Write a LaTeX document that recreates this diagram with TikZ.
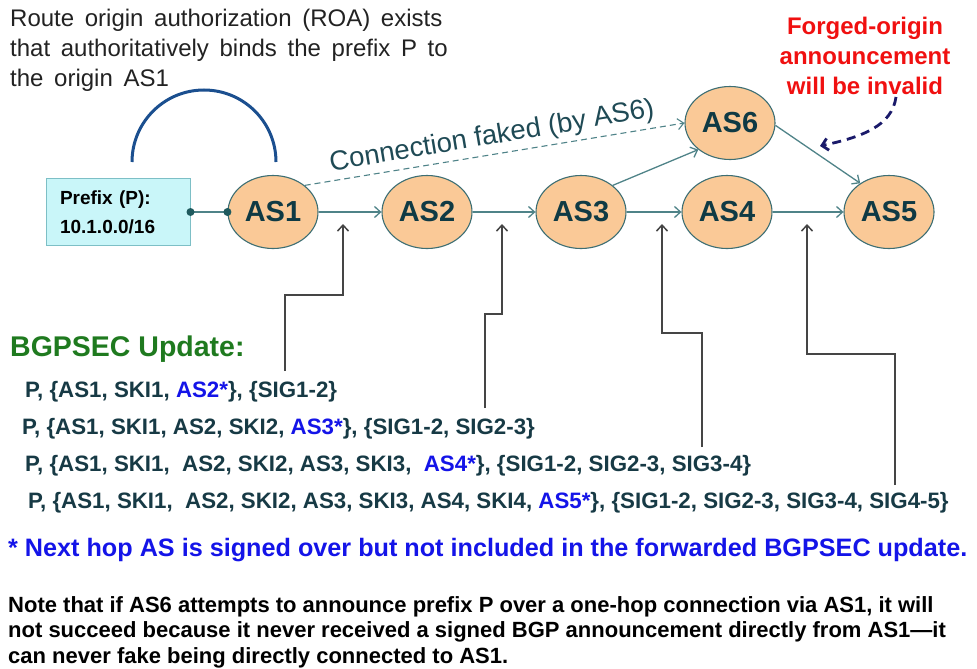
\documentclass[tikz,border=0pt]{standalone}
\usepackage{fontspec}
\setmainfont{Liberation Sans}
\newfontfamily\roaflow[WordSpace=1.6]{Liberation Sans}
\usetikzlibrary{shapes.geometric,arrows.meta}
\definecolor{asfill}{HTML}{FAC997}
\definecolor{asdraw}{HTML}{3C6E73}
\definecolor{astext}{HTML}{0F3A44}
\definecolor{edgecol}{HTML}{4F8388}
\definecolor{boxfill}{HTML}{C9F6F9}
\definecolor{boxdraw}{HTML}{7DBFC6}
\definecolor{arccol}{HTML}{1B4F8F}
\definecolor{fakecol}{HTML}{1F4A55}
\definecolor{forgedred}{HTML}{F01010}
\definecolor{navycol}{HTML}{1A1A6A}
\definecolor{greencol}{HTML}{1F7A1F}
\definecolor{updcol}{HTML}{173A45}
\definecolor{bluecol}{HTML}{1414E8}
\definecolor{callcol}{HTML}{454545}
\definecolor{roatext}{HTML}{222222}
\definecolor{dotcol}{HTML}{1F5A5E}
\begin{document}
\begin{tikzpicture}[x=1pt,y=-1pt,
  asnode/.style={ellipse, draw=asdraw, line width=1.1pt, fill=asfill,
    minimum width=90pt, minimum height=73pt, inner sep=0pt, text=astext,
    font=\fontsize{29}{29}\selectfont\bfseries},
  edge/.style={draw=edgecol, line width=1.3pt, -{Straight Barb[length=6pt,width=11pt]}},
  fakeedge/.style={edge, dash pattern=on 6pt off 4pt, line width=1.1pt},
  callout/.style={draw=callcol, line width=1.5pt, -{Straight Barb[length=6pt,width=11pt]}},
  updline/.style={anchor=west, inner sep=0pt, text=updcol, font=\fontsize{22.3}{22.3}\selectfont\bfseries},
  prefixbox/.style={rectangle, draw=boxdraw, line width=1pt, fill=boxfill,
    minimum width=144pt, minimum height=67pt, text width=116pt, align=left,
    inner sep=0pt, font=\fontsize{19}{29}\selectfont\bfseries, text=black}
]
\useasboundingbox (0,0) rectangle (977,669);

% ROA text
\node[anchor=north west, inner sep=0pt, align=left, text=roatext,
  font=\fontsize{24}{30}\roaflow] (roa) at (10,9)
  {Route origin authorization (ROA) exists\\that authoritatively binds the prefix P to\\the origin AS1};

% arc
\draw[arccol, line width=3pt] (132,162) arc[start angle=180, end angle=360, radius=72];

% nodes
\node[prefixbox] (prefix) at (118,212) {Prefix (P):\\10.1.0.0/16};
\node[asnode] (as1) at (273,212) {AS1};
\node[asnode] (as2) at (427,212) {AS2};
\node[asnode] (as3) at (581,212) {AS3};
\node[asnode] (as4) at (727,212) {AS4};
\node[asnode] (as5) at (889,212) {AS5};
\node[asnode] (as6) at (730,123) {AS6};

% prefix connector with dots
\draw[edgecol, line width=1.3pt] (prefix.east) -- (as1.west);
\fill[dotcol] (prefix.east) circle (4pt);
\fill[dotcol] (as1.west) circle (4pt);

% edges
\draw[edge] (as1) -- (as2);
\draw[edge] (as2) -- (as3);
\draw[edge] (as3) -- (as4);
\draw[edge] (as4) -- (as5);
\draw[edge] (as3.40) -- (as6.220);
\draw[edge] (as6.-3) -- (as5.135);
\draw[fakeedge] (as1.40) -- (as6.west);
\node[rotate=9.5, inner sep=0pt, text=fakecol, font=\fontsize{27.5}{27.5}\selectfont] (faketext) at (492,137) {Connection faked (by AS6)};

% forged origin
\node[align=center, inner sep=0pt, text=forgedred, font=\fontsize{24}{30}\selectfont\bfseries] (forged) at (865,56)
  {Forged-origin\\announcement\\will be invalid};
\coordinate (fgstart) at (896,97);
\coordinate (fgtip) at (820,146);
\draw[navycol, line width=2.8pt, dash pattern=on 9pt off 6pt, -{Straight Barb[length=6pt,width=12pt]}]
  (fgstart) .. controls (892,126) and (862,137) .. (fgtip);

% BGPSEC update
\node[anchor=west, inner sep=0pt, text=greencol, font=\fontsize{28.5}{28.5}\selectfont\bfseries] (bgpsec) at (10,349) {BGPSEC Update:};
\node[updline] (upd1) at (25,392) {P, \{AS1, SKI1, \textcolor{bluecol}{AS2*}\}, \{SIG1-2\}};
\node[updline] (upd2) at (22,429) {P, \{AS1, SKI1, AS2, SKI2, \textcolor{bluecol}{AS3*}\}, \{SIG1-2, SIG2-3\}};
\node[updline] (upd3) at (25,466) {P, \{AS1, SKI1,\ \ AS2, SKI2, AS3, SKI3,\ \ \textcolor{bluecol}{AS4*}\}, \{SIG1-2, SIG2-3, SIG3-4\}};
\node[updline] (upd4) at (28,503) {P, \{AS1, SKI1,\ \ AS2, SKI2, AS3, SKI3, AS4, SKI4, \textcolor{bluecol}{AS5*}\}, \{SIG1-2, SIG2-3, SIG3-4, SIG4-5\}};

% callouts
\coordinate (c1s) at (285,371); \coordinate (c1t) at (343,224);
\coordinate (c2s) at (485,408); \coordinate (c2t) at (502,224);
\coordinate (c3s) at (702,447); \coordinate (c3t) at (662,224);
\coordinate (c4s) at (895,485); \coordinate (c4t) at (807,224);
\draw[callout] (c1s) -- ++(0,-76) -| (c1t);
\draw[callout] (c2s) -- ++(0,-94) -| (c2t);
\draw[callout] (c3s) -- ++(0,-114) -| (c3t);
\draw[callout] (c4s) -- ++(0,-131) -| (c4t);

% footnote
\node[anchor=west, inner sep=0pt, text=bluecol, font=\fontsize{25.2}{25.2}\selectfont\bfseries] (foot) at (8,550)
  {* Next hop AS is signed over but not included in the forwarded BGPSEC update.};

% note
\node[anchor=north west, inner sep=0pt, align=left, text=black, font=\fontsize{22}{25.5}\selectfont\bfseries] (note) at (8,596)
  {Note that if AS6 attempts to announce prefix P over a one-hop connection via AS1, it will\\
   not succeed because it never received a signed BGP announcement directly from AS1—it\\
   can never fake being directly connected to AS1.};
\end{tikzpicture}
\end{document}
